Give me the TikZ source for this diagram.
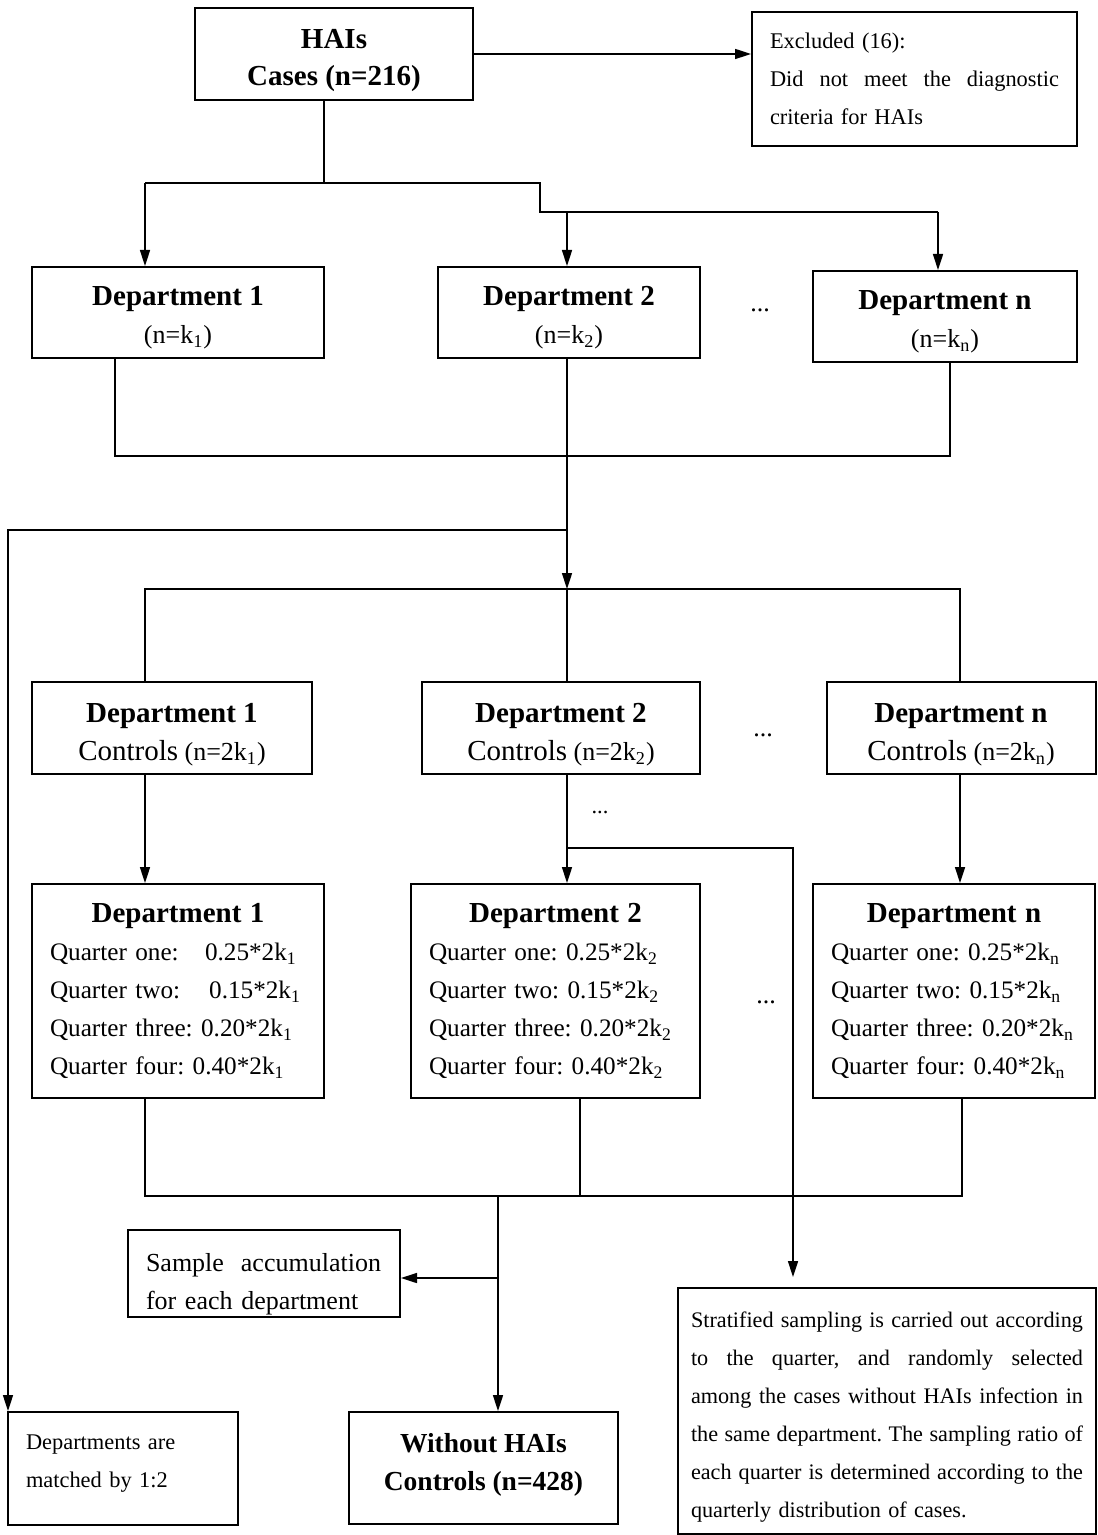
\documentclass[tikz,border=0pt]{standalone}
\usepackage{fontspec}
\setmainfont{Liberation Serif}
\usetikzlibrary{arrows.meta}

\newcommand\headfont{\fontsize{14.5}{18.5}\selectfont\bfseries}
\newcommand\bodyfont{\fontsize{13}{19}\selectfont}
\newcommand\quartfont{\fontsize{12.6}{19}\selectfont}
\newcommand\notefont{\fontsize{11.2}{19}\selectfont}
\newcommand\fillline[2]{\leavevmode\hbox to #1{\spaceskip=0.25em plus 1fil\relax #2}}
\newcommand\lift[1]{\rule{0pt}{#1}}
\newcommand\sink[1]{\rule[-#1]{0pt}{#1}}
\frenchspacing

\begin{document}
\frenchspacing
\begin{tikzpicture}[x=0.5pt,y=-0.5pt,
    box/.style={draw, line width=1pt, inner sep=0pt, align=center},
    link/.style={line width=0.8pt},
    arr/.style={link, -{Triangle[width=5pt,length=8pt]}}]
  \useasboundingbox (0,0) rectangle (1097,1535);

  % Cases
  \node[box, minimum width=139pt, minimum height=46pt, font=\headfont] (cases) at (334,54)
    {\lift{16pt}HAIs\\Cases (n=216)};
  \node[box, text width=144.5pt, inner xsep=9pt, minimum height=67pt, align=left, font=\notefont] (excl) at (914.5,79)
    {Excluded (16):\\ \fillline{144.5pt}{Did not meet the diagnostic}\\ criteria for HAIs};

  % Departments
  \node[box, minimum width=146pt, minimum height=45.5pt, font=\bodyfont] (d1) at (178,312.5)
    {\lift{15pt}{\headfont Department 1}\\(n=k\textsubscript{1})};
  \node[box, minimum width=131pt, minimum height=45.5pt, font=\bodyfont] (d2) at (569,312.5)
    {\lift{15pt}{\headfont Department 2}\\(n=k\textsubscript{2})};
  \node[box, minimum width=132pt, minimum height=45.5pt, font=\bodyfont] (dn) at (945,316.5)
    {\lift{15pt}{\headfont Department n}\\(n=k\textsubscript{n})};
  \node[font=\bodyfont] (gapd) at (760,310) {...};

  % Controls
  \node[box, minimum width=140pt, minimum height=46pt, font=\bodyfont] (c1) at (172,728)
    {\lift{16.5pt}{\headfont Department 1}\\{\fontsize{14.5}{19}\selectfont Controls} (n=2k\textsubscript{1})};
  \node[box, minimum width=139pt, minimum height=46pt, font=\bodyfont] (c2) at (561,728)
    {\lift{16.5pt}{\headfont Department 2}\\{\fontsize{14.5}{19}\selectfont Controls} (n=2k\textsubscript{2})};
  \node[box, minimum width=134.5pt, minimum height=46pt, font=\bodyfont] (cn) at (961,728)
    {\lift{16.5pt}{\headfont Department n}\\{\fontsize{14.5}{19}\selectfont Controls} (n=2k\textsubscript{n})};
  \node[font=\bodyfont] (gapc) at (763,735) {...};
  \node[font=\notefont] (gapm) at (600,812) {...};

  % Quarters
  \node[box, text width=128pt, inner xsep=9pt, minimum height=107pt, align=left, font=\quartfont] (q1) at (178,991)
    {\makebox[128pt]{\headfont Department 1}\\
     \makebox[77.5pt][l]{Quarter one:}0.25*2k\textsubscript{1}\\
     \makebox[77.5pt][l]{Quarter two:}\,0.15*2k\textsubscript{1}\\
     Quarter three: 0.20*2k\textsubscript{1}\\
     Quarter four: 0.40*2k\textsubscript{1}};
  \node[box, text width=126.5pt, inner xsep=9pt, minimum height=107pt, align=left, font=\quartfont] (q2) at (555.5,991)
    {\makebox[126.5pt]{\headfont Department 2}\\
     Quarter one: 0.25*2k\textsubscript{2}\\
     Quarter two: 0.15*2k\textsubscript{2}\\
     Quarter three: 0.20*2k\textsubscript{2}\\
     Quarter four: 0.40*2k\textsubscript{2}};
  \node[box, text width=123pt, inner xsep=9pt, minimum height=107pt, align=left, font=\quartfont] (qn) at (954,991)
    {\makebox[123pt]{\headfont Department n}\\
     Quarter one: 0.25*2k\textsubscript{n}\\
     Quarter two: 0.15*2k\textsubscript{n}\\
     Quarter three: 0.20*2k\textsubscript{n}\\
     Quarter four: 0.40*2k\textsubscript{n}};
  \node[font=\bodyfont] (gapq) at (766,1002) {...};

  % Results
  \node[box, text width=118pt, inner xsep=9pt, minimum height=43.5pt, align=left, font=\bodyfont] (samp) at (264,1273.5)
    {\lift{20pt}\fillline{117.5pt}{Sample accumulation}\\ for each department};
  \node[box, text width=97pt, inner xsep=9pt, minimum height=56.5pt, align=left, font=\notefont] (match) at (123,1468.5)
    {Departments are\\ matched by 1:2\sink{7.5pt}};
  \node[box, minimum width=134.5pt, minimum height=56pt, font=\fontsize{13.75}{19}\selectfont\bfseries] (ctl) at (483.5,1468)
    {Without HAIs\\ Controls (n=428)\sink{6.5pt}};
  \node[box, text width=196pt, inner xsep=6.5pt, minimum height=123pt, align=left, font=\fontsize{11.1}{19}\selectfont] (strat) at (887,1411)
    {\lift{13.5pt}\fillline{196pt}{Stratified sampling is carried out according}\\
     \fillline{196pt}{to the quarter, and randomly selected}\\
     \fillline{196pt}{among the cases without HAIs infection in}\\
     \fillline{196pt}{the same department. The sampling ratio of}\\
     \fillline{196pt}{each quarter is determined according to the}\\
     quarterly distribution of cases.};

  % Junctions
  \coordinate (s0) at (324,183);
  \coordinate (ta) at (145,183);
  \coordinate (tb) at (540,212);
  \coordinate (td) at (567,212);
  \coordinate (tc) at (938,212);
  \coordinate (ma) at (115,456);
  \coordinate (mb) at (567,456);
  \coordinate (mc) at (950,456);
  \coordinate (ml) at (567,530);
  \coordinate (lft) at (8,530);
  \coordinate (sa) at (145,589);
  \coordinate (sb) at (567,589);
  \coordinate (sc) at (960,589);
  \coordinate (ra) at (567,848);
  \coordinate (rb) at (793,848);
  \coordinate (ba) at (145,1196);
  \coordinate (bb) at (580,1196);
  \coordinate (bc) at (962,1196);
  \coordinate (bd) at (498,1196);
  \coordinate (be) at (498,1278);

  % Connectors
  \draw[arr] (cases.east) -- (cases.east -| excl.west);
  \draw[link] (cases.south -| s0) -- (s0);
  \draw[link] (ta) -- (ta -| tb) -- (tb) -- (tc);
  \draw[arr] (ta) -- (ta |- d1.north);
  \draw[arr] (td) -- (td |- d2.north);
  \draw[arr] (tc) -- (tc |- dn.north);

  \draw[link] (d1.south -| ma) -- (ma) -- (mc) -- (dn.south -| mc);
  \draw[link] (d2.south -| mb) -- (mb);
  \draw[arr] (mb) -- (sb);
  \draw[arr] (ml) -- (lft) -- (lft |- match.north);

  \draw[link] (c1.north -| sa) -- (sa) -- (sc) -- (cn.north -| sc);
  \draw[link] (sb) -- (c2.north -| sb);
  \draw[arr] (c1.south -| sa) -- (q1.north -| sa);
  \draw[arr] (c2.south -| sb) -- (q2.north -| sb);
  \draw[arr] (cn.south -| sc) -- (qn.north -| sc);
  \draw[arr, shorten >=5pt] (ra) -- (rb) -- (rb |- strat.north);

  \draw[link] (q1.south -| ba) -- (ba) -- (bc) -- (qn.south -| bc);
  \draw[link] (q2.south -| bb) -- (bb);
  \draw[arr] (bd) -- (bd |- ctl.north);
  \draw[arr] (be) -- (be -| samp.east);
\end{tikzpicture}
\end{document}
